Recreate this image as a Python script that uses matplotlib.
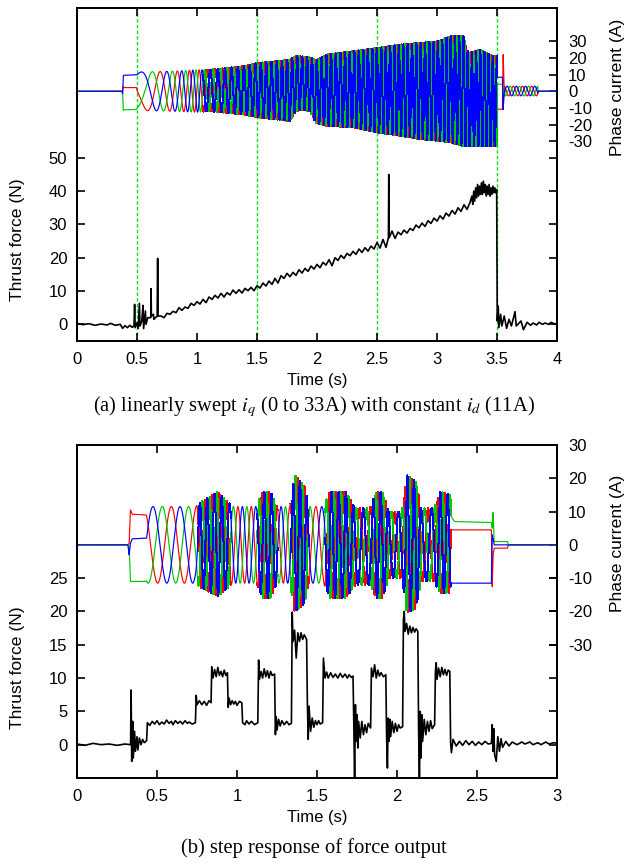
import numpy as np
import matplotlib.pyplot as plt
from matplotlib.ticker import FuncFormatter

plt.rcParams.update({
    "font.family": "Liberation Sans",
    "font.size": 12,
    "axes.unicode_minus": False,
    "axes.linewidth": 1.4,
    "mathtext.fontset": "stix",
})

RED, GREEN, BLUE = "#ff0000", "#00c800", "#0000ff"

# ---------------- (a) linearly swept iq ----------------
A_FORCE_T = [0.00, 0.05, 0.10, 0.15, 0.20, 0.25, 0.28, 0.32, 0.36, 0.38, 0.40, 0.42, 0.44, 0.46,
             0.475, 0.480, 0.485, 0.50, 0.51, 0.52, 0.525, 0.54, 0.55, 0.555, 0.57, 0.575, 0.59,
             0.615, 0.617, 0.62, 0.637, 0.64, 0.668, 0.672, 0.676,
             0.700, 0.725, 0.750, 0.775, 0.800, 0.825, 0.850, 0.875, 0.900, 0.925, 0.950, 0.975,
             1.000, 1.025, 1.050, 1.075, 1.100, 1.125, 1.150, 1.175, 1.200, 1.225, 1.250, 1.275,
             1.300, 1.325, 1.350, 1.375, 1.400, 1.425, 1.450, 1.475, 1.500, 1.525, 1.550, 1.575,
             1.600, 1.625, 1.650, 1.675, 1.700, 1.725, 1.750, 1.775, 1.800, 1.825, 1.850, 1.875,
             1.900, 1.925, 1.950, 1.975, 2.000, 2.025, 2.050, 2.075, 2.100, 2.125, 2.150, 2.175,
             2.200, 2.225, 2.250, 2.275, 2.300, 2.325, 2.350, 2.375, 2.400, 2.425, 2.450, 2.475,
             2.500, 2.525, 2.550, 2.575, 2.595, 2.598, 2.602, 2.625, 2.650, 2.675, 2.700, 2.725,
             2.750, 2.775, 2.800, 2.825, 2.850, 2.875, 2.900, 2.925, 2.950, 2.975, 3.000, 3.025,
             3.050, 3.075, 3.100, 3.125, 3.150, 3.175, 3.200, 3.225, 3.250, 3.275,
             3.290, 3.298, 3.306, 3.314, 3.322, 3.330, 3.338, 3.346, 3.354, 3.362, 3.370, 3.378,
             3.386, 3.394, 3.402, 3.410, 3.418, 3.426, 3.434, 3.442, 3.450, 3.458, 3.466, 3.474,
             3.482, 3.490, 3.497,
             3.502, 3.51, 3.515, 3.53, 3.54, 3.56, 3.58, 3.60, 3.62, 3.65, 3.66, 3.70,
             3.72, 3.75, 3.78, 3.80, 3.83, 3.85, 3.88, 3.90, 3.93, 3.95, 3.98, 4.00]
A_FORCE = [0.3, -0.1, 0.2, -0.3, 0.1, -0.2, 0.3, -0.3, 0.0, -1.2, -0.4, -1.0, -0.3, -0.9,
           -0.5, 6.0, -1.0, 0.5, -1.2, 6.3, -0.5, 1.0, 5.7, -1.3, 4.0, 0.0, 2.0,
           2.0, 10.7, 2.5, 3.0, 1.5, 2.5, 19.8, 2.5,
           2.5, 2.0, 3.3, 3.0, 3.9, 3.5, 5.0, 4.2, 5.2, 4.8, 6.3, 5.7,
           6.8, 6.1, 7.5, 6.5, 8.2, 7.5, 8.7, 7.9, 9.3, 8.2, 9.5, 8.8,
           10.3, 9.3, 10.4, 9.4, 10.8, 10.1, 11.1, 10.1, 11.6, 10.9, 12.4, 11.5,
           13.0, 12.0, 13.8, 12.4, 14.6, 13.8, 15.3, 14.3, 15.6, 14.7, 16.4, 15.4,
           16.8, 15.9, 17.5, 16.6, 18.0, 17.0, 18.6, 17.8, 19.4, 17.6, 20.0, 19.2,
           20.7, 19.8, 21.3, 20.6, 21.9, 21.0, 22.6, 21.6, 23.0, 22.0, 23.5, 22.6,
           24.6, 22.9, 25.5, 23.1, 26.0, 45.0, 26.0, 28.0, 25.8, 27.7, 26.9, 28.3,
           27.4, 28.8, 28.2, 29.8, 29.0, 30.4, 29.4, 31.1, 30.3, 31.9, 31.0, 32.6,
           31.6, 33.4, 32.5, 34.2, 33.1, 35.0, 33.9, 35.9, 34.5, 36.6,
           38.5, 36.0, 40.0, 37.0, 41.0, 38.0, 42.0, 38.5, 41.5, 39.0, 42.5, 39.0,
           43.0, 39.5, 42.0, 38.5, 41.5, 39.0, 42.0, 38.5, 41.0, 39.0, 41.5, 39.5,
           41.0, 39.5, 40.5,
           1.0, 5.5, -1.0, 3.0, -0.5, 2.5, -1.2, 1.5, -0.5, 3.8, -0.5, 1.0,
           -1.6, 0.6, -0.3, 0.4, -0.2, 0.6, 0.0, 0.4, 0.0, 0.6, 0.1, 0.3]

# phase currents outside the sinusoidal windows (red, green, blue)
A_KEY_T = [0.0, 0.372, 0.380, 0.386, 0.392, 0.495, 0.50,
           3.50, 3.545, 3.551, 3.557, 3.562, 3.565, 3.84, 4.0]
A_KEY_RED = [0, 0, 0, 2.8, 2.2, 2.2, 0.4, -10.8, -10.8, 22, 6, 0, 0, 0, 0]
A_KEY_GREEN = [0, 0, 0, -11.5, -11.2, -11.0, -10.2, 4.2, 4.2, 2, -3, 0, 0, 0, 0]
A_KEY_BLUE = [0, 0, -1.5, 9.5, 9.6, 9.8, 9.8, 8.4, 8.4, -11, -4, 0, 0, 0, 0]

# main sweep: envelope (top / bottom of band) and electrical frequency
A_ENV_T = [0.50, 0.80, 1.00, 1.11, 1.39, 1.50, 1.67, 1.775, 1.82, 1.86, 1.94, 1.99, 2.08,
           2.30, 2.50, 2.69, 2.86, 3.01, 3.11, 3.22, 3.26, 3.36, 3.47, 3.50]
A_UPPER = [11.5, 12, 12.8, 13, 15, 17, 18, 19, 21, 21, 20.4, 18.5, 22,
           24, 26, 28, 29, 30, 33, 33, 23, 25, 21, 21]
A_LOWER = [-11.5, -12, -12.6, -12, -14, -15.7, -17, -18, -12.5, -11, -12, -19, -20.8,
           -21.7, -24.7, -26.8, -28.8, -29.8, -30.8, -33, -37, -37, -37, -37]
A_FREQ_T = [0.50, 0.55, 0.65, 0.75, 0.85, 1.00, 1.20, 1.50, 2.00, 2.50, 3.00, 3.50]
A_FREQ = [2.0, 3.0, 5.0, 6.5, 9.0, 13.0, 17.0, 22.0, 25.0, 27.0, 28.0, 29.0]
A_THETA0 = 58

# small ripple after the stop
A_RIP_T = [3.565, 3.84]
A_RIP_UPPER = [3.0, 3.0]
A_RIP_LOWER = [-2.8, -2.8]
A_RIP_FREQ = [13, 13]

# ---------------- (b) step response ----------------
B_FORCE_T = [0.00, 0.05, 0.10, 0.15, 0.20, 0.25, 0.30, 0.335, 0.338, 0.342, 0.348, 0.352, 0.36,
             0.365, 0.375, 0.38, 0.39, 0.40, 0.41, 0.42, 0.435, 0.44, 0.455, 0.47, 0.485, 0.50,
             0.515, 0.53, 0.545, 0.56, 0.575, 0.59, 0.60, 0.615, 0.63, 0.645, 0.66, 0.675,
             0.69, 0.70, 0.72, 0.74, 0.745, 0.75, 0.765, 0.78, 0.795, 0.81, 0.825, 0.838,
             0.842, 0.85, 0.86, 0.87, 0.88, 0.89, 0.90, 0.91, 0.92, 0.93, 0.94, 0.945, 0.95,
             0.96, 0.97, 0.98, 0.99, 1.00, 1.015, 1.03, 1.035, 1.05, 1.06, 1.075, 1.09, 1.11,
             1.13, 1.135, 1.14, 1.15, 1.16, 1.17, 1.18, 1.19, 1.20, 1.21, 1.22, 1.235, 1.24,
             1.245, 1.25, 1.26, 1.27, 1.28, 1.295, 1.31, 1.325, 1.34, 1.345, 1.35, 1.36, 1.37,
             1.38, 1.39, 1.40, 1.41, 1.42, 1.435, 1.44, 1.445, 1.45, 1.46, 1.47, 1.48, 1.49,
             1.50, 1.51, 1.52, 1.535, 1.54, 1.55, 1.56, 1.57, 1.585, 1.60, 1.615, 1.63, 1.645,
             1.66, 1.675, 1.69, 1.70, 1.715, 1.725, 1.73, 1.735, 1.74, 1.745, 1.75, 1.755, 1.76,
             1.77, 1.78, 1.79, 1.80, 1.81, 1.82, 1.835, 1.84, 1.85, 1.86, 1.87, 1.88, 1.89,
             1.90, 1.915, 1.93, 1.935, 1.94, 1.945, 1.95, 1.955, 1.96, 1.97, 1.98, 1.99, 2.00,
             2.01, 2.02, 2.035, 2.04, 2.045, 2.05, 2.06, 2.07, 2.08, 2.09, 2.10, 2.11, 2.12,
             2.13, 2.135, 2.14, 2.145, 2.15, 2.155, 2.16, 2.17, 2.18, 2.19, 2.20, 2.21, 2.22,
             2.235, 2.24, 2.245, 2.25, 2.26, 2.27, 2.28, 2.29, 2.30, 2.31, 2.32, 2.33, 2.335,
             2.34, 2.35, 2.37, 2.39, 2.41, 2.43, 2.45, 2.47, 2.49, 2.51, 2.53, 2.55, 2.57,
             2.59, 2.595, 2.60, 2.605, 2.61, 2.62, 2.63, 2.64, 2.65, 2.66, 2.68, 2.70, 2.72,
             2.75, 2.78, 2.80, 2.83, 2.85, 2.88, 2.90, 2.93, 2.95, 2.98, 3.00]
B_FORCE = [0.1, -0.1, 0.2, 0.0, 0.1, -0.1, 0.1, 0.0, 8.2, -2.5, 3.5, -2.0, 2.0,
           -1.0, 1.2, -0.8, 1.0, 0.0, 0.8, 0.3, 0.6, 3.3, 2.9, 3.5, 3.1, 3.6,
           3.0, 3.4, 3.1, 3.7, 3.2, 3.5, 3.0, 3.6, 3.2, 3.5, 3.1, 3.6,
           3.2, 3.4, 3.1, 3.3, 7.4, 6.0, 6.6, 6.0, 6.5, 5.9, 6.6, 6.3,
           11.7, 10.0, 11.3, 10.2, 11.6, 10.4, 11.0, 10.2, 11.2, 10.4, 10.8, 5.6, 7.0,
           6.0, 6.6, 6.1, 6.5, 5.9, 6.5, 6.3, 3.3, 3.0, 3.6, 3.1, 3.5, 3.0,
           3.3, 12.7, 9.8, 11.0, 10.0, 11.4, 10.2, 11.1, 10.0, 11.0, 10.4, 10.6, 1.5,
           4.2, 2.2, 3.8, 2.8, 3.6, 3.0, 3.5, 3.0, 3.2, 19.9, 15.5, 17.2, 13.0,
           16.8, 15.5, 16.8, 15.8, 16.5, 15.8, 6.0, 0.8, 5.8, 2.0, 4.0, 2.6, 3.6,
           3.0, 3.6, 3.1, 3.3, 13.0, 10.0, 10.9, 10.0, 10.8, 10.1, 10.6, 10.0, 10.7,
           10.1, 10.6, 10.0, 10.5, 10.1, 10.3, 3.0, -5.5, 6.0, 0.5, 4.5, -0.5, 3.5,
           1.0, 3.5, 1.5, 3.0, 1.8, 3.2, 2.5, 11.5, 10.2, 12.0, 10.0, 11.2, 10.3,
           10.8, 10.2, 10.5, 1.0, -3.5, 4.0, 0.5, 3.8, 1.2, 3.5, 1.8, 3.2, 2.0,
           3.0, 2.5, 2.7, 18.7, 20.0, 17.0, 18.2, 16.6, 17.8, 16.8, 17.6, 16.9, 17.4,
           17.0, 2.0, -5.5, 5.0, -2.0, 4.5, 0.5, 3.8, 1.5, 3.5, 2.0, 3.6, 2.4,
           3.0, 11.0, 12.3, 9.8, 11.5, 10.2, 11.6, 10.5, 11.3, 10.4, 11.2, 11.0, 0.3,
           -1.2, 0.8, -0.2, 0.5, -0.1, 0.6, 0.0, 0.5, -0.1, 0.4, 0.0, 0.5, 0.1,
           0.2, 3.0, -1.0, 2.4, -1.5, -2.5, 1.2, -1.0, 0.9, -0.4, 0.5, -0.2, 0.4,
           0.0, 0.4, 0.1, 0.4, 0.0, 0.3, 0.0, 0.4, 0.1, 0.3, 0.2]

B_KEY_T = [0.0, 0.318, 0.326, 0.330, 0.334, 0.345, 0.430, 0.435,
           2.335, 2.345, 2.36, 2.59, 2.595, 2.600, 2.607, 2.615, 2.69, 2.695, 3.0]
B_KEY_RED = [0, 0, 0.5, 5, 10.5, 9.2, 9.0, 8.8, 4.5, 4.5, 4.5, 4.5, -12.5, -3, -1, -1, -1, 0, 0]
B_KEY_GREEN = [0, 0, -0.5, -6, -11, -11, -11, -10.8, 9.0, 8.0, 7.0, 6.7, 5, 9.7, 1, 1, 1, 0, 0]
B_KEY_BLUE = [0, 0, -3, -1, 0.5, 1.8, 2.0, 2.0, -11.5, -11.5, -11.5, -11.5, 3, 2, 0, 0, 0, 0, 0]

B_ENV_T = [0.435, 0.74, 0.78, 0.88, 0.94, 0.98, 1.12, 1.16, 1.21, 1.25, 1.33, 1.36, 1.42,
           1.45, 1.54, 1.58, 1.68, 1.74, 1.83, 1.87, 1.91, 1.95, 2.03, 2.06, 2.12, 2.15,
           2.23, 2.27, 2.335]
B_UPPER = [11.5, 11.5, 13, 16, 13, 11.5, 11.5, 16, 16, 11.5, 11.5, 21, 18,
           11.5, 11.5, 16, 16, 11, 11, 16, 16, 10, 10, 21, 19, 11,
           11, 16, 15]
B_LOWER = [-11.5, -11.5, -13, -15.5, -13, -11.5, -11.5, -16, -16, -11.5, -11.5, -20, -18,
           -11.5, -11.5, -16, -16, -12, -12, -16, -16, -10, -10, -20.5, -19, -11,
           -11, -14.5, -14.5]
B_FREQ_T = [0.435, 0.74, 0.77, 0.93, 0.97, 1.12, 1.15, 1.23, 1.26, 1.33, 1.36, 1.43, 1.46,
            1.54, 1.57, 1.72, 1.75, 1.83, 1.86, 1.93, 1.96, 2.03, 2.06, 2.13, 2.16, 2.23,
            2.26, 2.335]
B_FREQ = [5.5, 6.5, 22, 22, 12, 12, 22, 22, 12, 12, 24, 24, 9,
          9, 22, 22, 15, 15, 22, 22, 15, 15, 24, 24, 15, 15,
          22, 22]
B_THETA0 = 10

DT = 1e-4
SLOW_HZ = 14  # below this the waveform is drawn smooth, above it crisp


def phase_currents(t_end, key_t, keys, windows):
    t = np.arange(0, t_end + DT, DT)
    out = [np.interp(t, key_t, k) for k in keys]
    f_all = np.zeros_like(t)
    for env_t, upper, lower, freq_t, freq, theta0 in windows:
        m = (t >= env_t[0]) & (t <= env_t[-1])
        tt = t[m]
        f = np.interp(tt, freq_t, freq)
        f_all[m] = f
        theta = np.deg2rad(theta0) + 2 * np.pi * np.cumsum(f) * DT
        up = np.interp(tt, env_t, upper)
        lo = np.interp(tt, env_t, lower)
        amp, off = (up - lo) / 2, (up + lo) / 2
        # red lags blue by 240 deg, green by 120 deg
        for k, lag in enumerate([240, 120, 0]):
            out[k][m] = np.clip(off + amp * np.sin(theta - np.deg2rad(lag)), -33, 33)
    return t, out, f_all > SLOW_HZ


def panel(rect, t_end, force_t, force, cur_t, currents, fast, f_lim, f_ticks, c_lim, xticks,
          ylab_y, clab_y, vlines=()):
    ax = fig.add_axes(rect)
    ax2 = ax.twinx()
    ax.set_zorder(ax2.get_zorder() + 1)
    ax.patch.set_visible(False)

    for x in vlines:
        ax2.axvline(x, color="#10e010", lw=1.0, ls=(0, (2.5, 1.6)), zorder=0)
    # widen the fast mask by one sample so the pieces join
    fast_w = fast | np.roll(fast, 1) | np.roll(fast, -1)
    for c, y in zip([RED, GREEN, BLUE], currents):
        ax2.plot(cur_t, np.where(fast, np.nan, y), color=c, lw=0.85)
        ax2.plot(cur_t, np.where(fast_w, y, np.nan), color=c, lw=0.72, antialiased=False)
    ax.plot(force_t, force, color="black", lw=1.2)

    ax.set_xlim(0, t_end)
    ax.set_ylim(*f_lim)
    ax2.set_ylim(*c_lim)
    ax.set_xticks(xticks)
    ax.set_yticks(f_ticks)
    ax2.set_yticks(range(-30, 31, 10))
    ax.xaxis.set_major_formatter(FuncFormatter(lambda v, p: "%g" % v))
    ax.tick_params(direction="in", length=6, width=1.2, top=True, right=True, pad=7)
    ax2.tick_params(direction="in", length=6, width=1.2, pad=8)
    ax.tick_params(axis="x", pad=8)

    ax.set_xlabel("Time (s)", va="center")
    ax.xaxis.set_label_coords(0.5, -0.12)
    ax.set_ylabel("Thrust force (N)", va="center", fontsize=12.6)
    ax.yaxis.set_label_coords(-0.123, ylab_y)
    ax2.set_ylabel("Phase current (A)", va="center", fontsize=12.6)
    ax2.yaxis.set_label_coords(1.125, clab_y)
    return ax, ax2


fig = plt.figure(figsize=(6.27, 8.65), dpi=100)

ta, cur_a, fast_a = phase_currents(
    4.0, A_KEY_T, [A_KEY_RED, A_KEY_GREEN, A_KEY_BLUE],
    [(A_ENV_T, A_UPPER, A_LOWER, A_FREQ_T, A_FREQ, A_THETA0),
     (A_RIP_T, A_RIP_UPPER, A_RIP_LOWER, A_RIP_T, A_RIP_FREQ, 0)])
panel([0.1228, 0.6058, 0.7656, 0.385], 4.0, A_FORCE_T, A_FORCE, ta, cur_a, fast_a,
      (-5, 95), range(0, 51, 10), (-150, 50), np.arange(0, 4.01, 0.5),
      0.303, 0.763, vlines=(0.5, 1.5, 2.5, 3.5))

tb, cur_b, fast_b = phase_currents(
    3.0, B_KEY_T, [B_KEY_RED, B_KEY_GREEN, B_KEY_BLUE],
    [(B_ENV_T, B_UPPER, B_LOWER, B_FREQ_T, B_FREQ, B_THETA0)])
panel([0.1228, 0.1006, 0.7656, 0.385], 3.0, B_FORCE_T, B_FORCE, tb, cur_b, fast_b,
      (-5, 45), range(0, 26, 5), (-70, 30), np.arange(0, 3.01, 0.5),
      0.33, 0.706)

fig.text(0.5, 1 - 407 / 865, "(a) linearly swept $i_q$ (0 to 33A) with constant $i_d$ (11A)",
         ha="center", va="center", family="Liberation Serif", fontsize=14.8)
fig.text(0.5, 1 - 848 / 865, "(b) step response of force output",
         ha="center", va="center", family="Liberation Serif", fontsize=14.8)

fig.savefig("out.png", dpi=100)
